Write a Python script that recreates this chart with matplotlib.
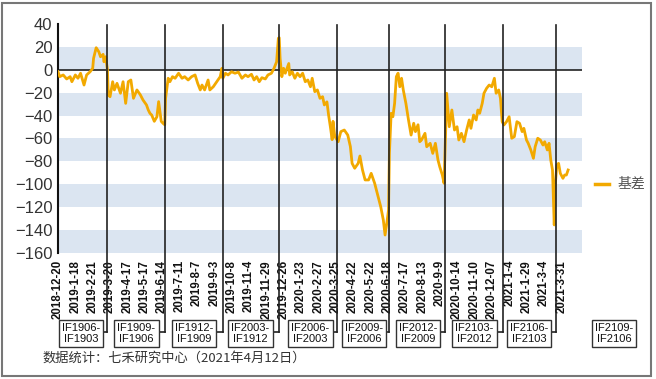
import matplotlib
matplotlib.use("Agg")
import matplotlib.pyplot as plt
from matplotlib.patches import Rectangle
import matplotlib.transforms as mtransforms

# 数据（从图上读出，x 为交易日序号）
day = [0, 2, 6, 10, 14, 16, 20, 23, 26, 30, 33, 37, 40, 41, 44, 47, 49, 52, 53, 55,
       57, 58, 60, 63, 65, 68, 72, 75, 78, 81, 84, 87, 91, 95, 98, 102, 104, 106, 108, 111,
       114, 116, 119, 121, 123, 124, 127, 129, 132, 135, 139, 143, 146, 150, 154, 158, 161, 164, 166, 169,
       173, 175, 179, 183, 187, 189, 190, 193, 196, 200, 204, 208, 212, 216, 219, 223, 226, 229, 232, 235,
       239, 242, 246, 249, 252, 254, 255, 256, 258, 260, 262, 266, 267, 270, 273, 276, 279, 282, 285, 288,
       291, 293, 296, 299, 302, 305, 307, 310, 312, 314, 316, 317, 319, 323, 326, 330, 334, 337, 339, 342,
       346, 348, 351, 354, 358, 361, 365, 369, 372, 375, 377, 379, 381, 382, 384, 386, 388, 390, 392, 394,
       396, 398, 401, 404, 407, 410, 412, 415, 417, 419, 423, 425, 429, 432, 435, 438, 440, 443, 445, 447,
       448, 451, 454, 457, 460, 462, 465, 468, 471, 474, 476, 479, 482, 484, 486, 489, 491, 494, 497, 500,
       503, 505, 508, 510, 512, 514, 517, 520, 523, 526, 529, 532, 535, 537, 540, 542, 545, 548, 550, 553,
       556, 559, 561, 564, 566, 568, 570, 572, 573, 575, 577, 579, 582, 584, 586, 588]
basis = [-1.7, -6, -4.5, -8, -6, -10.4, -4.5, -7.4, -3, -13.3, -4.5, -1.7, 1.3, 10, 19.3, 15.8, 11.4, 13.5, 7, 11.4,
         -0.2, -22, -23.5, -10.4, -17.6, -11.8, -20.5, -10.4, -29.3, -10.4, -8.9, -24.9, -17.6, -22, -26.4, -30.7, -35, -38, -39.5, -45,
         -41, -27.8, -45, -46.7, -48, -25, -7.4, -10.4, -6, -7.4, -3, -7.4, -6, -8.9, -6, -4.5, -11.8, -17.6, -13.3, -17.6,
         -8.9, -17.6, -14.8, -10.4, -6, 1.3, -7.4, -3, -4.5, -1.7, -3, -2, -7.4, -4.5, -6, -3.9, -8.9, -6, -10.4, -6.9,
         -8, -4.5, -3, 1.3, 7, 27.5, 28, 10, -6, 1.3, -3, 5.5, -4.5, -1.7, -7.4, -3, -6, -3, -10.4, -8.9,
         -14.8, -7.4, -19.1, -17.6, -24.9, -23.5, -30.7, -28, -40, -50, -61, -45, -58, -62.8, -54, -52.6, -57, -67, -81.7, -86,
         -81.7, -75.3, -87.5, -96.2, -96.2, -90.4, -99.1, -110.8, -119.6, -131.2, -144.3, -134, -122.4, -73, -38, -41, -29.3, -6, -3, -14.8,
         -7.4, -17.6, -29.3, -43.8, -57, -46.7, -54, -48, -62.8, -61.3, -55.5, -67.2, -64.2, -73, -64.2, -78.8, -84.6, -91.9, -99.1, -49.7,
         -20.5, -49.7, -35.1, -52.6, -49.7, -61.3, -55.5, -62.8, -52.6, -43.8, -51.1, -39.5, -43.8, -35.1, -38, -29.3, -20.5, -16.2, -13.3, -14.8,
         -7.4, -20.5, -17.6, -25, -45.3, -48.2, -45.3, -41, -59.8, -58.4, -45.3, -46.7, -54, -51.1, -61.3, -64.2, -70, -77.3, -67.2, -59.8,
         -61.3, -65.7, -62.8, -70, -64.2, -78.8, -87.5, -135.5, -102, -83.1, -81.7, -90.4, -94.8, -91.9, -91.9, -87.5]

date_labels = ["2018-12-20", "2019-1-18", "2019-2-21", "2019-3-20", "2019-4-17", "2019-5-17",
               "2019-6-14", "2019-7-11", "2019-8-7", "2019-9-3", "2019-10-8", "2019-11-4",
               "2019-11-29", "2019-12-26", "2020-1-23", "2020-2-27", "2020-3-25", "2020-4-22",
               "2020-5-22", "2020-6-18", "2020-7-17", "2020-8-13", "2020-9-9", "2020-10-14",
               "2020-11-10", "2020-12-07", "2021-1-4", "2021-1-29", "2021-3-4", "2021-3-31"]
label_step = 20

# 换月日及合约对
roll_day = [56.5, 123.3, 190.2, 254.8, 321.6, 381.6, 446.1, 513, 574]
pairs = ["IF1906-\nIF1903", "IF1909-\nIF1906", "IF1912-\nIF1909", "IF2003-\nIF1912",
         "IF2006-\nIF2003", "IF2009-\nIF2006", "IF2012-\nIF2009", "IF2103-\nIF2012",
         "IF2106-\nIF2103", "IF2109-\nIF2106"]
box_center = [26.5, 90.5, 157, 222, 291, 353, 415, 480, 543, 641]

orange = "#f2a900"
band = "#dbe5f1"

fig = plt.figure(figsize=(6.56, 3.79), dpi=100)
ax = fig.add_axes([58/656, 1-253/379, 524/656, 229/379])

for lo in [0, -40, -80, -120, -160]:
    ax.axhspan(lo, lo + 20, color=band, lw=0, zorder=0)
ax.axhline(0, color="#222222", lw=1.2, zorder=2)

ax.plot(day, basis, color=orange, lw=2.0, zorder=4, label="基差")

ax.set_xlim(0, 604)
ax.set_ylim(-160, 40)
ax.set_yticks(range(-160, 41, 20))
ax.set_xticks([i * label_step for i in range(len(date_labels))])
ax.set_xticklabels(date_labels, rotation=90, fontsize=8.3, fontweight="bold",
                   family="Liberation Sans", va="top", ha="center")
ax.tick_params(axis="x", length=0, pad=5, colors="#111111")
ax.tick_params(axis="y", length=0, pad=4, labelsize=12, colors="#333333")
for t in ax.get_yticklabels():
    t.set_family("Liberation Sans")

for s in ["top", "right", "bottom"]:
    ax.spines[s].set_visible(False)
ax.spines["left"].set_color("#111111")
ax.spines["left"].set_linewidth(1.5)

trans = mtransforms.blended_transform_factory(ax.transData, ax.transAxes)
box_w = 51
box_top = (253 - 320) / 229
box_bot = (253 - 347) / 229
link_y = (253 - 332) / 229

for i, (c, txt) in enumerate(zip(box_center, pairs)):
    ax.add_patch(Rectangle((c - box_w / 2, box_bot), box_w, box_top - box_bot,
                           transform=trans, fill=True, fc="white", ec="#333333",
                           lw=1.0, clip_on=False, zorder=6))
    ax.text(c, (box_top + box_bot) / 2, txt, transform=trans, ha="center", va="center",
            fontsize=8, family="Liberation Sans", color="#111111",
            linespacing=1.05, zorder=7, clip_on=False)

for i, r in enumerate(roll_day):
    ax.plot([r, r], [0.995, link_y], transform=trans, color="#222222", lw=1.2,
            clip_on=False, zorder=5)
    ax.plot([r, box_center[i] + box_w / 2], [link_y, link_y], transform=trans,
            color="#222222", lw=1.2, clip_on=False, zorder=5)

# 图例
fig.lines.append(plt.Line2D([595/656, 609/656], [1-184/379, 1-184/379],
                            transform=fig.transFigure, color=orange, lw=2.5))
fig.text(618/656, 1-184/379, "基差", fontsize=10, color="#555555",
         family=["Noto Sans CJK SC", "DejaVu Sans"], va="center", ha="left")

fig.text(42/656, 1-358/379, "数据统计：七禾研究中心（2021年4月12日）", fontsize=9.5,
         color="#333333", family=["Noto Sans CJK SC", "DejaVu Sans"], va="center", ha="left")

fig.patches.append(Rectangle((2/656, 3/379), 649/656, 373/379, transform=fig.transFigure,
                             fill=False, ec="#777777", lw=1.5))

fig.savefig("out.png", dpi=100)
